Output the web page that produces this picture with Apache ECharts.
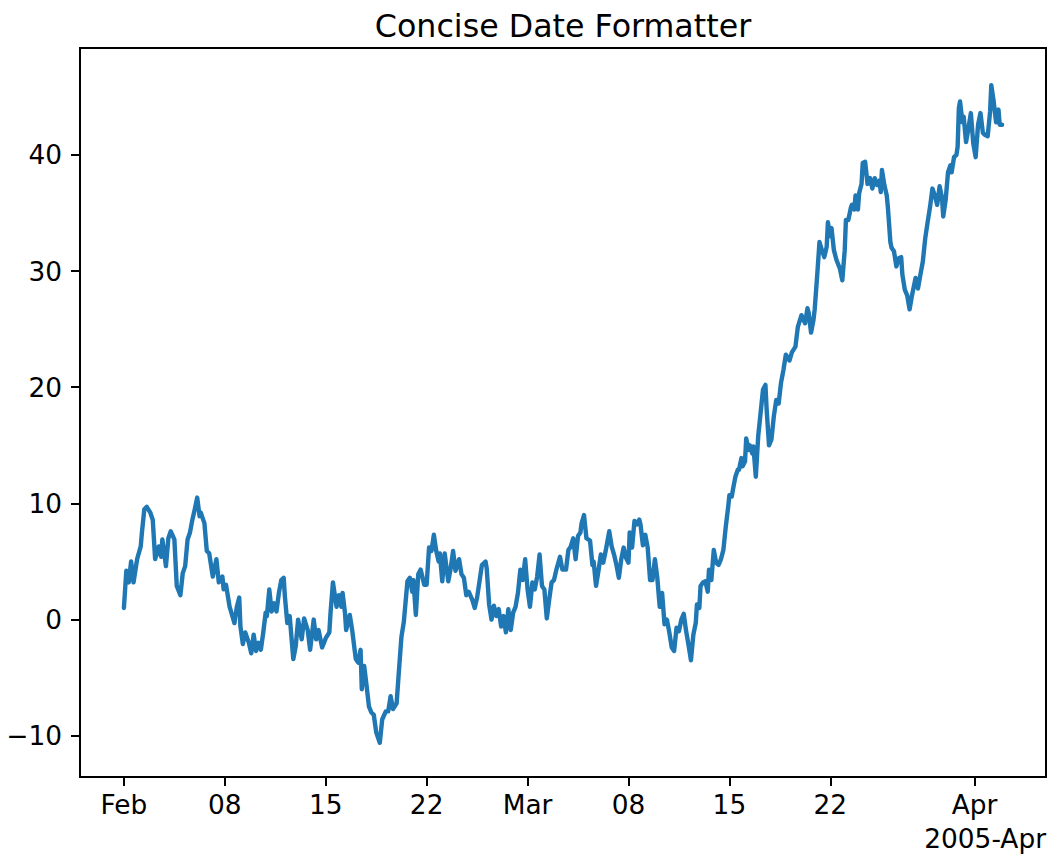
<!DOCTYPE html>
<html>
<head>
<meta charset="utf-8">
<title>Concise Date Formatter</title>
<script src="https://cdn.jsdelivr.net/npm/echarts@6/dist/echarts.min.js"></script>
<style>
  html, body { margin: 0; padding: 0; background: #ffffff; }
  #chart { width: 1048px; height: 855px; }
</style>
</head>
<body>
<div id="chart"></div>
<script>
// Random-walk series sampled in 2-hour steps from 2005-02-01 00:00 UTC.
const startDate = '2005-02-01T00:00:00Z';

// Hours elapsed since startDate for each sample.
const hours = [
  0, 4, 8, 12, 16, 22, 28, 30, 34, 38, 44, 48, 52, 58, 62, 64, 70, 74, 78, 84,
  88, 94, 98, 102, 106, 110, 114, 118, 122, 126, 128, 134, 138, 142, 148, 154, 158, 164, 166, 170,
  176, 180, 184, 188, 192, 194, 198, 202, 208, 212, 216, 220, 224, 228, 232, 236, 238, 242, 246, 250,
  254, 258, 262, 266, 268, 272, 276, 282, 286, 290, 296, 300, 306, 310, 316, 320, 324, 330, 336, 342,
  344, 348, 354, 358, 362, 364, 368, 370, 376, 380, 386, 390, 394, 396, 400, 404, 408, 412, 416, 420,
  426, 430, 436, 440, 444, 448, 454, 458, 462, 466, 472, 476, 480, 482, 486, 490, 494, 500, 504, 508,
  512, 516, 520, 524, 526, 530, 534, 540, 544, 548, 552, 558, 562, 566, 570, 574, 580, 584, 588, 592,
  596, 602, 604, 608, 612, 616, 620, 624, 628, 632, 636, 640, 644, 648, 652, 656, 660, 664, 668, 672,
  676, 680, 684, 688, 692, 696, 700, 704, 708, 712, 716, 720, 726, 730, 736, 740, 744, 748, 752, 756,
  760, 762, 766, 770, 776, 780, 782, 786, 790, 794, 798, 802, 808, 812, 816, 820, 824, 828, 832, 836,
  840, 842, 846, 850, 854, 858, 860, 864, 868, 872, 876, 880, 884, 888, 892, 896, 900, 904, 908, 912,
  916, 920, 924, 928, 932, 936, 940, 944, 948, 952, 954, 958, 960, 964, 968, 972, 974, 978, 982, 986,
  990, 994, 998, 1002, 1006, 1008, 1012, 1014, 1018, 1022, 1024, 1028, 1030, 1034, 1036, 1040, 1042, 1046, 1048, 1052,
  1056, 1060, 1064, 1068, 1070, 1074, 1078, 1082, 1086, 1090, 1094, 1098, 1102, 1108, 1112, 1118, 1122, 1128, 1134, 1138,
  1140, 1144, 1148, 1150, 1154, 1158, 1162, 1166, 1170, 1172, 1176, 1178, 1182, 1186, 1192, 1196, 1200, 1202, 1206, 1210,
  1212, 1216, 1218, 1222, 1224, 1228, 1230, 1234, 1238, 1242, 1246, 1250, 1254, 1258, 1260, 1262, 1266, 1270, 1272, 1276,
  1278, 1282, 1286, 1290, 1294, 1296, 1300, 1304, 1308, 1312, 1318, 1322, 1326, 1330, 1334, 1338, 1342, 1346, 1350, 1354,
  1358, 1362, 1364, 1368, 1372, 1376, 1378, 1382, 1386, 1388, 1390, 1392, 1396, 1398, 1402, 1406, 1410, 1414, 1418, 1422,
  1426, 1430, 1434, 1438, 1442, 1444, 1448, 1452, 1456, 1458, 1462
];

// Series value at each sample.
const values = [
  1.0, 4.2, 3.2, 5.0, 3.2, 5.2, 6.3, 7.5, 9.5, 9.7, 9.2, 8.6, 5.2, 6.3, 5.4, 6.9, 4.6, 7.0, 7.6, 6.9,
  2.9, 2.1, 4.0, 4.6, 6.9, 7.5, 8.6, 9.5, 10.5, 8.9, 9.2, 8.3, 5.9, 5.7, 3.7, 5.2, 3.2, 3.7, 2.6, 3.0,
  1.1, 0.4, -0.3, 1.1, 1.9, -0.6, -2.1, -1.1, -2.0, -2.9, -1.3, -2.7, -2.0, -2.6, -1.1, 0.6, 0.3, 2.6, 0.7, 1.4,
  0.7, 2.3, 3.4, 3.6, 2.0, -0.3, 0.3, -3.4, -2.3, 0.0, -1.7, 0.1, -0.9, -2.6, 0.0, -1.7, -0.9, -2.4, -1.6, -1.1,
  0.6, 3.2, 1.1, 2.1, 1.1, 2.3, 0.6, -0.9, 0.4, -0.9, -3.4, -3.7, -2.6, -6.0, -4.0, -5.7, -7.5, -8.0, -8.2, -9.7,
  -10.6, -8.6, -7.9, -7.9, -6.6, -7.7, -7.2, -4.3, -1.5, -0.2, 3.3, 3.6, 2.4, 3.4, 0.4, 3.9, 4.3, 3.0, 3.0, 6.2,
  5.9, 7.3, 5.9, 5.0, 5.7, 3.3, 5.7, 3.3, 4.4, 5.9, 4.2, 5.2, 3.9, 3.6, 2.1, 2.4, 1.7, 1.0, 1.9, 3.3,
  4.7, 5.0, 4.4, 1.3, 0.0, 1.2, 0.3, 0.9, -0.6, 0.3, -1.1, 0.9, -0.9, 0.6, 1.1, 2.3, 4.3, 3.4, 5.2, 2.6,
  1.1, 3.2, 2.6, 3.7, 5.6, 2.9, 2.6, 0.1, 1.7, 3.2, 3.4, 4.3, 5.4, 4.3, 4.3, 6.0, 6.3, 7.0, 5.2, 7.2,
  7.5, 8.3, 9.0, 7.0, 6.8, 4.7, 5.0, 2.9, 4.2, 5.6, 4.9, 5.9, 7.6, 6.3, 5.6, 4.7, 3.6, 5.2, 6.2, 5.3,
  4.9, 7.5, 6.2, 8.5, 8.2, 8.6, 8.2, 6.4, 7.3, 6.2, 3.4, 3.4, 5.2, 3.6, 1.1, 2.3, -0.4, 0.0, -1.1, -2.4,
  -2.7, -0.7, -1.0, 0.0, 0.5, -1.0, -2.2, -3.5, -1.3, -0.3, 1.3, 1.0, 2.9, 3.2, 3.3, 2.4, 4.3, 3.4, 6.0, 4.9,
  4.7, 5.2, 6.0, 8.0, 9.7, 10.7, 10.6, 11.2, 12.3, 12.9, 12.9, 13.9, 13.2, 13.6, 15.6, 14.6, 15.0, 14.3, 14.9, 12.3,
  15.8, 17.8, 19.8, 20.2, 18.1, 15.0, 15.5, 17.5, 18.9, 18.6, 20.4, 21.5, 22.8, 22.3, 23.0, 23.5, 25.2, 26.2, 25.5, 26.8,
  26.4, 24.7, 25.8, 26.7, 29.5, 32.5, 31.8, 31.2, 32.1, 34.2, 33.0, 33.7, 31.8, 31.0, 30.2, 29.2, 31.8, 34.4, 34.4, 35.4,
  35.7, 35.3, 36.5, 35.3, 36.7, 37.5, 39.3, 39.4, 37.5, 38.0, 37.1, 38.0, 37.4, 37.8, 36.8, 38.7, 37.4, 36.5, 35.4, 32.5,
  32.0, 31.7, 30.4, 31.1, 31.2, 29.7, 28.4, 27.9, 26.7, 27.9, 29.4, 28.5, 29.7, 30.8, 32.8, 34.2, 35.5, 37.1, 36.5, 35.7,
  37.3, 36.3, 34.7, 36.1, 38.5, 39.1, 38.5, 39.8, 40.0, 40.7, 44.0, 44.6, 42.8, 43.3, 41.1, 42.3, 43.6, 41.0, 39.8, 42.6,
  43.6, 41.9, 41.7, 41.6, 43.7, 46.0, 44.6, 42.8, 43.9, 42.6, 42.6
];

// Concise date ticks along the time axis.
const tickDates = [
  '2005-02-01', '2005-02-08', '2005-02-15', '2005-02-22',
  '2005-03-01', '2005-03-08', '2005-03-15', '2005-03-22', '2005-04-01'
];
const tickLabels = ['Feb', '08', '15', '22', 'Mar', '08', '15', '22', 'Apr'];
const offsetLabel = '2005-Apr';

const yTicks = [-10, 0, 10, 20, 30, 40];
const yRange = [-13.55, 49.2];

const HOUR = 3600 * 1000;
const t0 = Date.parse(startDate);
const points = hours.map((h, i) => [t0 + h * HOUR, values[i]]);

const tickTimes = tickDates.map(d => Date.parse(d + 'T00:00:00Z'));
const labelByTime = {};
tickTimes.forEach((t, i) => { labelByTime[t] = tickLabels[i]; });

// 5% padding on both sides of the time span
const tFirst = points[0][0];
const tLast = points[points.length - 1][0];
const pad = (tLast - tFirst) * 0.05;

const FONT = "'DejaVu Sans', 'Liberation Sans', sans-serif";
const ink = '#000000';

const chart = echarts.init(document.getElementById('chart'), null, { renderer: 'svg' });

chart.setOption({
  animation: false,
  backgroundColor: '#ffffff',
  grid: {
    left: 80, right: 2, top: 48, bottom: 78,
    show: true, borderColor: ink, borderWidth: 2, backgroundColor: 'transparent'
  },
  xAxis: {
    type: 'value',
    min: tFirst - pad,
    max: tLast + pad,
    axisLine: { show: true, onZero: false, lineStyle: { color: ink, width: 2 } },
    axisTick: { show: true, length: 9, lineStyle: { color: ink, width: 2 }, customValues: tickTimes },
    axisLabel: {
      customValues: tickTimes,
      formatter: v => labelByTime[v] || '',
      color: ink, fontFamily: FONT, fontSize: 26.4, margin: 14
    },
    splitLine: { show: false }
  },
  yAxis: {
    type: 'value',
    min: yRange[0],
    max: yRange[1],
    axisLine: { show: true, onZero: false, lineStyle: { color: ink, width: 2 } },
    axisTick: { show: true, length: 9, lineStyle: { color: ink, width: 2 }, customValues: yTicks },
    axisLabel: {
      customValues: yTicks,
      formatter: v => (v < 0 ? '\u2212' + Math.abs(v) : String(v)),
      color: ink, fontFamily: FONT, fontSize: 26.4, margin: 18
    },
    splitLine: { show: false }
  },
  series: [{
    type: 'line',
    data: points,
    showSymbol: false,
    silent: true,
    lineStyle: { color: '#1f77b4', width: 4.4, join: 'round', cap: 'round' }
  }],
  graphic: [
    {
      type: 'text',
      x: 563, y: 26,
      style: {
        text: 'Concise Date Formatter',
        font: "31.7px 'DejaVu Sans', 'Liberation Sans', sans-serif",
        fill: ink, textAlign: 'center', textVerticalAlign: 'middle'
      }
    },
    {
      type: 'text',
      x: 1046, y: 838,
      style: {
        text: offsetLabel,
        font: "26.4px 'DejaVu Sans', 'Liberation Sans', sans-serif",
        fill: ink, textAlign: 'right', textVerticalAlign: 'middle'
      }
    }
  ]
});
</script>
</body>
</html>
